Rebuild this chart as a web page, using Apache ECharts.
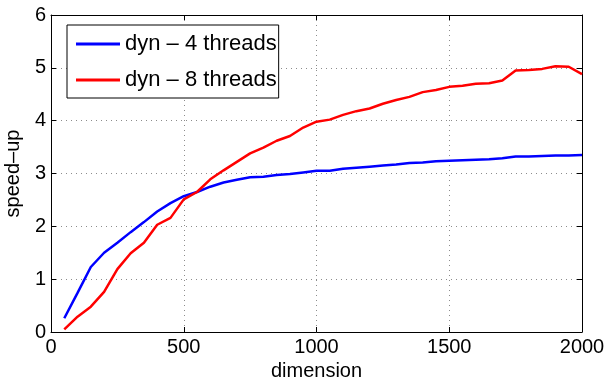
<!DOCTYPE html>
<html>
<head>
<meta charset="utf-8">
<script src="https://cdn.jsdelivr.net/npm/echarts@6/dist/echarts.min.js"></script>
<style>
  html, body { margin: 0; padding: 0; background: #fff; }
  #chart { width: 608px; height: 377px; }
</style>
</head>
<body>
<div id="chart"></div>
<script>
const dimensions = [
  50, 100, 150, 200, 250, 300, 350, 400, 450, 500,
  550, 600, 650, 700, 750, 800, 850, 900, 950, 1000,
  1050, 1100, 1150, 1200, 1250, 1300, 1350, 1400, 1450, 1500,
  1550, 1600, 1650, 1700, 1750, 1800, 1850, 1900, 1950, 2000,
];
const dyn4 = [
  0.26, 0.74, 1.23, 1.50, 1.69, 1.89, 2.08, 2.28, 2.44, 2.57,
  2.65, 2.75, 2.83, 2.88, 2.93, 2.94, 2.97, 2.99, 3.02, 3.05,
  3.05, 3.09, 3.11, 3.13, 3.15, 3.17, 3.20, 3.21, 3.23, 3.24,
  3.25, 3.26, 3.27, 3.29, 3.32, 3.32, 3.33, 3.34, 3.34, 3.35,
];
const dyn8 = [
  0.05, 0.29, 0.48, 0.76, 1.19, 1.49, 1.69, 2.03, 2.16, 2.51,
  2.65, 2.89, 3.06, 3.22, 3.38, 3.49, 3.62, 3.71, 3.87, 3.98,
  4.02, 4.11, 4.18, 4.23, 4.32, 4.39, 4.45, 4.54, 4.58, 4.64,
  4.66, 4.70, 4.71, 4.76, 4.95, 4.96, 4.98, 5.03, 5.02, 4.88,
];
const xTicks = [0, 500, 1000, 1500, 2000];
const yTicks = [0, 1, 2, 3, 4, 5, 6];

const font = "'Liberation Sans', Arial, Helvetica, sans-serif";
const chart = echarts.init(document.getElementById("chart"), null, { renderer: "canvas" });

const gridDots = { show: true, lineStyle: { color: "#8c8c8c", type: [1, 4], width: 1 } };
const tickIn = { show: true, inside: true, length: 5, lineStyle: { color: "#000" } };
const blackLine = { show: true, onZero: false, lineStyle: { color: "#000", width: 1 } };
const plainNum = (v) => String(v);

const options = {
  backgroundColor: "#fff",
  animation: false,
  textStyle: { fontFamily: font },
  grid: {
    left: 51,
    right: 26,
    top: 15,
    bottom: 45,
    containLabel: false,
    outerBoundsMode: "none",
  },
  legend: {
    orient: "vertical",
    left: 67,
    top: 25,
    padding: [8, 2, 7, 9],
    itemGap: 14,
    itemWidth: 44,
    itemHeight: 3,
    icon: "rect",
    borderColor: "#000",
    borderWidth: 1,
    backgroundColor: "#fff",
    textStyle: { fontFamily: font, fontSize: 22, color: "#000", lineHeight: 20 },
    data: ["dyn \u2013 4 threads", "dyn \u2013 8 threads"],
  },
  xAxis: [
    {
      type: "value",
      min: xTicks[0],
      max: xTicks[xTicks.length - 1],
      interval: xTicks[1] - xTicks[0],
      position: "bottom",
      name: "dimension",
      nameLocation: "middle",
      nameGap: 22,
      nameTextStyle: { fontFamily: font, fontSize: 20, color: "#000" },
      axisLine: blackLine,
      axisTick: tickIn,
      axisLabel: { fontFamily: font, fontSize: 20, color: "#000", margin: 5, formatter: plainNum },
      splitLine: gridDots,
    },
    {
      type: "value",
      min: xTicks[0],
      max: xTicks[xTicks.length - 1],
      interval: xTicks[1] - xTicks[0],
      position: "top",
      axisLine: blackLine,
      axisTick: tickIn,
      axisLabel: { show: false },
      splitLine: { show: false },
    },
  ],
  yAxis: [
    {
      type: "value",
      min: yTicks[0],
      max: yTicks[yTicks.length - 1],
      interval: 1,
      position: "left",
      name: "speed\u2013up",
      nameLocation: "middle",
      nameGap: 25,
      nameTextStyle: { fontFamily: font, fontSize: 20, color: "#000" },
      axisLine: blackLine,
      axisTick: tickIn,
      axisLabel: { fontFamily: font, fontSize: 20, color: "#000", margin: 5, formatter: plainNum },
      splitLine: gridDots,
    },
    {
      type: "value",
      min: yTicks[0],
      max: yTicks[yTicks.length - 1],
      interval: 1,
      position: "right",
      axisLine: blackLine,
      axisTick: tickIn,
      axisLabel: { show: false },
      splitLine: { show: false },
    },
  ],
  series: [
    {
      type: "line",
      name: "dyn \u2013 4 threads",
      data: dimensions.map((d, i) => [d, dyn4[i]]),
      showSymbol: false,
      color: "#0000ff",
      lineStyle: { width: 2.5, color: "#0000ff" },
    },
    {
      type: "line",
      name: "dyn \u2013 8 threads",
      data: dimensions.map((d, i) => [d, dyn8[i]]),
      showSymbol: false,
      color: "#ff0000",
      lineStyle: { width: 2.5, color: "#ff0000" },
    },
  ],
};

chart.setOption(options);
</script>
</body>
</html>
